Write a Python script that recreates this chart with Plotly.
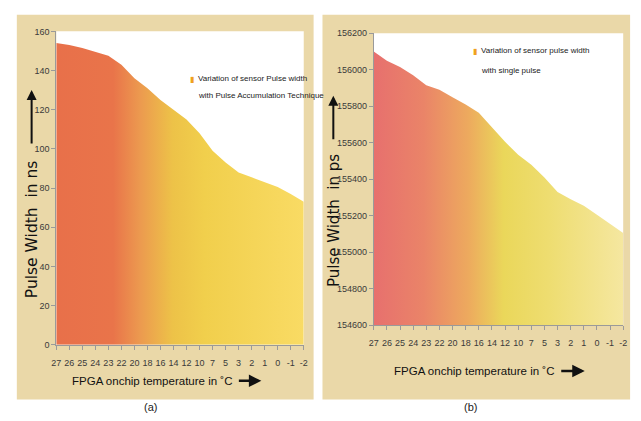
import plotly.graph_objects as go

temps = ["27", "26", "25", "24", "23", "22", "20", "18", "16", "14",
         "12", "10", "7", "5", "3", "2", "1", "0", "-1", "-2"]
pw_ns = [154, 153, 151.5, 149.5, 147.5, 143, 136, 131, 125, 120,
         115, 108, 99, 93, 88, 85.5, 83, 80.5, 77, 73]
pw_ps = [156100, 156050, 156015, 155970, 155915, 155890, 155850, 155810, 155765, 155685,
         155605, 155535, 155480, 155410, 155330, 155290, 155255, 155205, 155155, 155105]

W, H = 641, 421
def px(x): return x / W
def py(y): return 1 - y / H

NARROW = "Liberation Sans Narrow, Liberation Sans, Arial, sans-serif"
WIDE = "DejaVu Sans, Verdana, sans-serif"
PARCH = "#EAD8A8"

fig = go.Figure()

fig.add_trace(go.Scatter(
    x=temps, y=pw_ns, mode="lines", line=dict(width=0, color="rgba(0,0,0,0)"),
    fill="tozeroy",
    fillgradient=dict(type="horizontal", colorscale=[
        [0, "#E8704A"], [0.23, "#E9744A"], [0.34, "#EC9A4F"], [0.47, "#EDC248"],
        [0.6, "#F1CF4C"], [1, "#F9DB64"]]),
    xaxis="x", yaxis="y", showlegend=False, hoverinfo="x+y"))

fig.add_trace(go.Scatter(
    x=temps, y=pw_ps, mode="lines", line=dict(width=0, color="rgba(0,0,0,0)"),
    fill="tozeroy",
    fillgradient=dict(type="horizontal", colorscale=[
        [0, "#E7706E"], [0.2, "#EA8468"], [0.38, "#EDAA5E"], [0.52, "#EAD75A"],
        [0.7, "#EEDD70"], [1, "#F5E7A0"]]),
    xaxis="x2", yaxis="y2", showlegend=False, hoverinfo="x+y"))

axis_common = dict(showgrid=False, zeroline=False, ticks="outside", ticklen=4,
                   tickcolor="#9a9a9a", linecolor="#9a9a9a", showline=True,
                   tickfont=dict(family=NARROW, size=9, color="#3a3a3a"))

dom_a = dict(x=[px(52), px(303)], y=[py(348), py(27)])
dom_b = dict(x=[px(374), px(627)], y=[py(328), py(29)])

fig.update_layout(
    width=W, height=H, margin=dict(l=0, r=0, t=0, b=0),
    paper_bgcolor="white", plot_bgcolor="white",
    xaxis=dict(domain=dom_a["x"], anchor="y", type="category", tickangle=0,
               range=[0, len(temps) - 1], ticklabelstandoff=5, **axis_common),
    yaxis=dict(domain=dom_a["y"], anchor="x", range=[0, 160],
               dtick=20, **axis_common),
    xaxis2=dict(domain=dom_b["x"], anchor="y2", type="category", tickangle=0,
                range=[0, len(temps) - 1], ticklabelstandoff=5, **axis_common),
    yaxis2=dict(domain=dom_b["y"], anchor="x2", range=[154600, 156200],
                dtick=200, tickformat="d", **axis_common),
)

# parchment panels, then white plot areas on top of them
for x0, x1 in [(12, 313), (322, 634)]:
    fig.add_shape(type="rect", xref="paper", yref="paper",
                  x0=px(x0), x1=px(x1), y0=py(404), y1=py(10),
                  fillcolor=PARCH, line_width=0, layer="below")
for d in (dom_a, dom_b):
    fig.add_shape(type="rect", xref="paper", yref="paper",
                  x0=d["x"][0], x1=d["x"][1], y0=d["y"][0], y1=d["y"][1],
                  fillcolor="white", line_width=0, layer="below")

ann = []
# y axis titles
ann.append(dict(text="Pulse Width  in ns", x=px(27), y=py(230), textangle=-90,
                font=dict(family=WIDE, size=15.5, color="#111")))
ann.append(dict(text="Pulse Width  in ps", x=px(333), y=py(221), textangle=-90,
                font=dict(family=WIDE, size=15, color="#111")))
# x axis titles
ann.append(dict(text="FPGA onchip temperature in ˚C", x=px(149), y=py(385),
                font=dict(family=NARROW, size=11.5, color="#111")))
ann.append(dict(text="FPGA onchip temperature in ˚C", x=px(476), y=py(375),
                font=dict(family=NARROW, size=11.5, color="#111")))
# panel labels
ann.append(dict(text="(a)", x=px(148), y=py(412), font=dict(family=NARROW, size=11, color="#222")))
ann.append(dict(text="(b)", x=px(472), y=py(412), font=dict(family=NARROW, size=11, color="#222")))
# legends
ann.append(dict(text="▮", x=px(190), y=py(75), font=dict(size=8, color="#F0A020")))
ann.append(dict(text="Variation of sensor Pulse width", x=px(194), y=py(75), xanchor="left",
                font=dict(family=NARROW, size=8, color="#222")))
ann.append(dict(text="with Pulse Accumulation Technique", x=px(194), y=py(93), xanchor="left",
                font=dict(family=NARROW, size=8, color="#222")))
ann.append(dict(text="▮", x=px(477), y=py(47), font=dict(size=8, color="#F0A020")))
ann.append(dict(text="Variation of sensor pulse width", x=px(481), y=py(47), xanchor="left",
                font=dict(family=NARROW, size=8, color="#222")))
ann.append(dict(text="with single pulse", x=px(481), y=py(67), xanchor="left",
                font=dict(family=NARROW, size=8, color="#222")))
for a in ann:
    a.setdefault("xanchor", "center")
    fig.add_annotation(xref="paper", yref="paper", showarrow=False, yanchor="middle", **a)

# arrows (offsets in pixels)
for (x, y0, y1) in [(27, 142, 87), (333, 138, 93)]:
    fig.add_annotation(xref="paper", yref="paper", x=px(x), y=py(y1), ax=0, ay=y0 - y1,
                       showarrow=True, arrowhead=2, arrowsize=1, arrowwidth=2,
                       arrowcolor="#111", text="")
for (x0, x1, y) in [(236, 260, 385), (563, 588, 375)]:
    fig.add_annotation(xref="paper", yref="paper", x=px(x1), y=py(y), ax=-(x1 - x0), ay=0,
                       showarrow=True, arrowhead=2, arrowsize=1, arrowwidth=2.5,
                       arrowcolor="#111", text="")

fig.write_html(
    "out.html",
    config={"displayModeBar": False},
    post_script=("document.documentElement.style.margin='0';"
                 "document.body.style.margin='0';"
                 "document.body.style.overflow='hidden';"
                 "document.documentElement.style.overflow='hidden';"))
